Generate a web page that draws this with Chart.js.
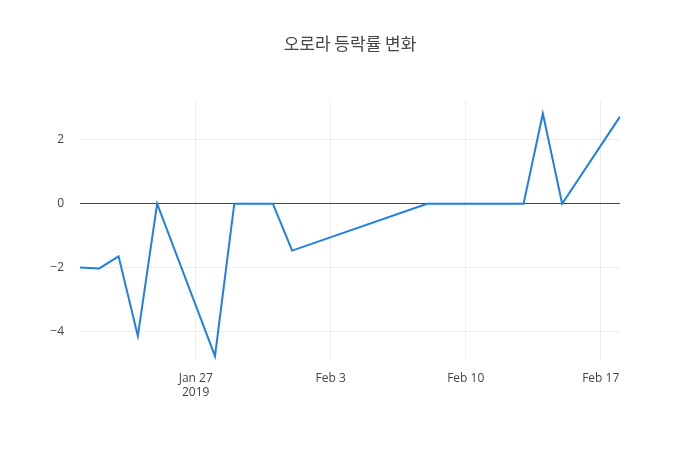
<!DOCTYPE html>
<html><head><meta charset="utf-8">
<script src="https://cdn.jsdelivr.net/npm/chart.js@4"></script>
<style>body{margin:0;background:#fff}#w{width:700px;height:450px}</style>
</head><body><div id="w"><canvas id="c"></canvas></div>
<script>
// days relative to Jan 27, 2019
const days = [-6,-5,-4,-3,-2,1,2,3,4,5,12,17,18,19,22];
const values = [-2.0,-2.03,-1.65,-4.15,0,-4.78,0,0,0,-1.47,0,0,2.83,0,2.73];
const tickDays = [0,7,14,21];
const tickLabels = [["Jan 27","2019"],"Feb 3","Feb 10","Feb 17"];
const yTicks = [-4,-2,0,2];
const titleText = '오로라 등락률 변화';

const titlePlugin = {id:'t',afterDraw(ch){const c=ch.ctx;c.save();c.fillStyle='#444';c.font='17px "Noto Sans CJK KR"';c.textAlign='center';c.textBaseline='middle';c.fillText(titleText,ch.width/2,44);c.restore();}};

new Chart(document.getElementById('c'), {
  type:'line',
  data:{datasets:[{data:days.map((d,i)=>({x:d,y:values[i]})),borderColor:'#1f7fe6',borderWidth:2,pointRadius:0,tension:0,fill:false}]},
  options:{
    responsive:true,maintainAspectRatio:false,animation:false,
    layout:{padding:{left:0,right:80,top:101,bottom:0}},
    plugins:{legend:{display:false},tooltip:{enabled:false},title:{display:false}},
    scales:{
      x:{type:'linear',min:-6,max:22,
        afterBuildTicks:s=>{s.ticks=tickDays.map(v=>({value:v}));},
        afterFit:s=>{s.height=90;},
        ticks:{callback:(v)=>tickLabels[tickDays.indexOf(v)],color:'#444',font:{family:'Open Sans',size:12},maxRotation:0,padding:11},
        grid:{color:'#eee',drawTicks:false},border:{display:false}},
      y:{min:-4.9,max:3.22,
        afterBuildTicks:s=>{s.ticks=yTicks.map(v=>({value:v}));},
        afterFit:s=>{s.width=80;},
        ticks:{callback:v=>v<0?'−'+Math.abs(v):String(v),color:'#444',font:{family:'Open Sans',size:12},padding:16},
        grid:{color:c=>c.tick&&c.tick.value===0?'#444':'#eee',lineWidth:1,drawTicks:false},border:{display:false}}
    }
  },
  plugins:[titlePlugin]
});
</script></body></html>
